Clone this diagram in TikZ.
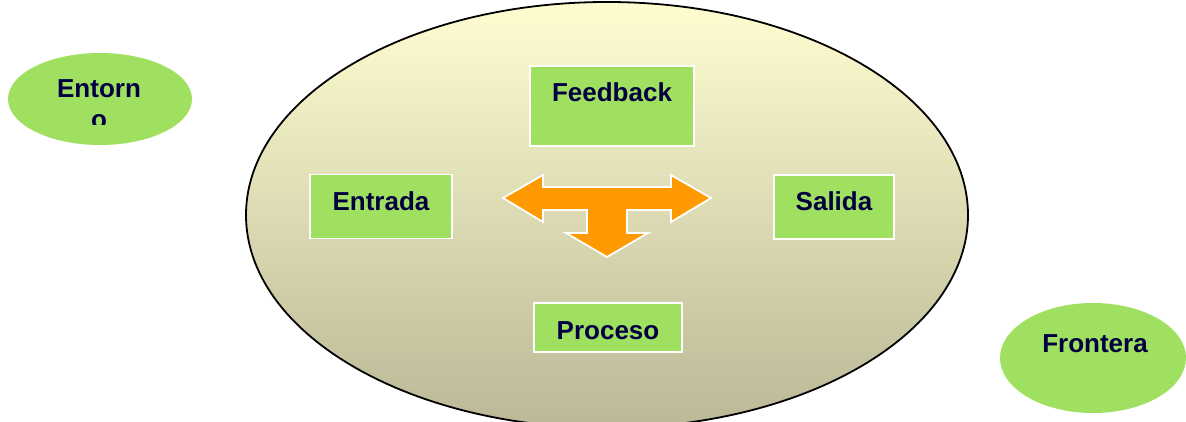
\documentclass[tikz,border=0pt]{standalone}
\usepackage{fontspec}
\setmainfont{Liberation Sans}
\usetikzlibrary{shapes.geometric}
\definecolor{lgreen}{RGB}{160,224,96}
\definecolor{navytxt}{RGB}{0,0,64}
\definecolor{orng}{RGB}{255,153,0}
\definecolor{eltop}{RGB}{255,253,208}
\definecolor{elbot}{RGB}{186,184,150}
\tikzset{
  gbox/.style={draw=white,line width=1.5pt,fill=lgreen,inner sep=0pt,text height=36pt,text=navytxt,font=\fontsize{26}{31}\selectfont\bfseries},
  gell/.style={ellipse,fill=lgreen,inner sep=0pt},
  lbl/.style={text=navytxt,inner sep=0pt,anchor=base,font=\fontsize{26}{31}\selectfont\bfseries},
  bigarr/.style={draw=white,line width=1.8pt,fill=orng,line join=miter},
}
\begin{document}
\begin{tikzpicture}[x=1pt,y=-1pt]
 \useasboundingbox (0,0) rectangle (1186,422);
 % system boundary
 \node[ellipse,draw=black,line width=1.8pt,inner sep=0pt,minimum width=722pt,minimum height=426pt,top color=eltop,bottom color=elbot] (sistema) at (607,215){};
 % boxes
 \node[gbox,minimum width=164pt,text depth=44pt] (feedback) at (612,106){Feedback};
 \node[gbox,minimum width=142pt,text depth=28pt] (entrada) at (381,206.5){Entrada};
 \node[gbox,minimum width=120pt,text depth=28pt] (salida) at (834,207){Salida};
 \node[gbox,minimum width=148pt,text depth=13pt] (proceso) at (608,327.5){Proceso};
 % arrow
 \path[bigarr] (503,198) -- (543,175) -- (543,187) -- (671,187) -- (671,175) -- (711,198) -- (671,222) -- (671,210) -- (627,210) -- (627,233) -- (648,233) -- (607,257) -- (566,233) -- (587,233) -- (587,210) -- (543,210) -- (543,222) -- cycle;
 % outside
 \node[gell,minimum width=184pt,minimum height=92pt] (entorno) at (100,99){};
 \begin{scope}
  \clip (0,40) rectangle (200,125);
  \node[lbl,align=center] (entornotxt) at (99,129){Entorn\\o};
 \end{scope}
 \node[gell,minimum width=186pt,minimum height=110pt] (frontera) at (1093,358){};
 \node[lbl] (fronteratxt) at (1095,352){Frontera};
\end{tikzpicture}
\end{document}
